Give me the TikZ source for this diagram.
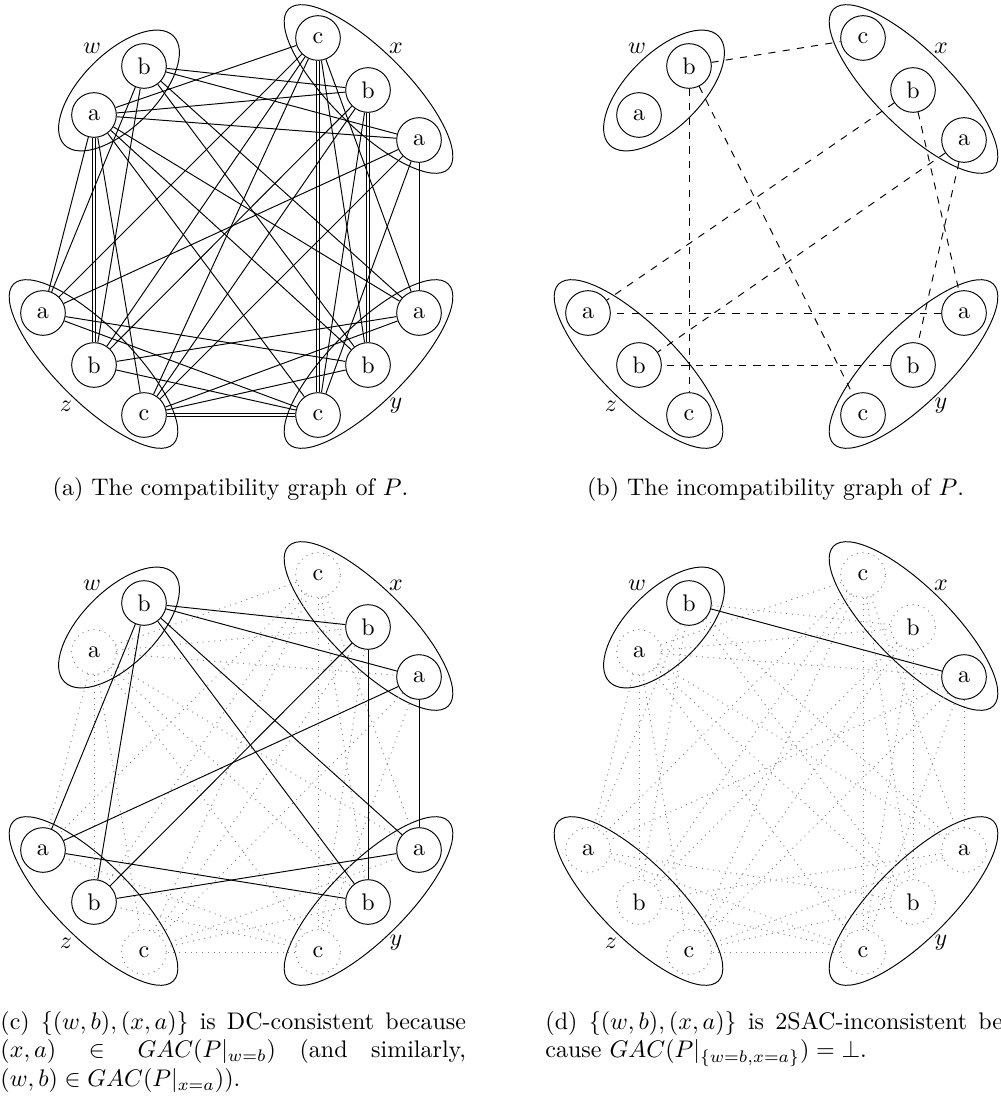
\documentclass[tikz,border=0pt]{standalone}
\usetikzlibrary{shapes.geometric}
\tikzset{
  vnode/.style={circle,draw,minimum size=18.6pt,inner sep=0pt},
  ghost/.style={draw=gray,dotted},
  vlabel/.style={inner sep=0pt},
  grp/.style={draw},
  comp/.style={draw},
  incomp/.style={draw,dashed},
  faint/.style={draw=gray,dotted},
  C-w-a/.style={ghost}, C-x-c/.style={ghost}, C-y-c/.style={ghost}, C-z-c/.style={ghost},
  D-w-a/.style={ghost}, D-x-b/.style={ghost}, D-x-c/.style={ghost},
  D-y-a/.style={ghost}, D-y-b/.style={ghost}, D-y-c/.style={ghost},
  D-z-a/.style={ghost}, D-z-b/.style={ghost}, D-z-c/.style={ghost},
}
\newcommand{\panelnodes}[3]{%
\begin{scope}[shift={(#2,#3)}]
\node[vnode,#1-w-a/.try] (#1-w-a) at (94,115) {a};
\node[vnode,#1-w-b/.try] (#1-w-b) at (144,66) {b};
\node[vnode,#1-x-c/.try] (#1-x-c) at (318,38) {c};
\node[vnode,#1-x-b/.try] (#1-x-b) at (368,90) {b};
\node[vnode,#1-x-a/.try] (#1-x-a) at (419,140) {a};
\node[vnode,#1-y-a/.try] (#1-y-a) at (419,313) {a};
\node[vnode,#1-y-b/.try] (#1-y-b) at (368,365) {b};
\node[vnode,#1-y-c/.try] (#1-y-c) at (318,415) {c};
\node[vnode,#1-z-a/.try] (#1-z-a) at (43,313) {a};
\node[vnode,#1-z-b/.try] (#1-z-b) at (94,365) {b};
\node[vnode,#1-z-c/.try] (#1-z-c) at (144,415) {c};
\node[vlabel] (#1-lw) at (92,48) {$w$};
\node[vlabel] (#1-lx) at (396,48) {$x$};
\node[vlabel] (#1-ly) at (396,406) {$y$};
\node[vlabel] (#1-lz) at (66,406) {$z$};
\draw[grp,rotate around={45:(119,90.5)}] (119,90.5) ellipse [x radius=77,y radius=37];
\draw[grp,rotate around={-45:(368.5,89)}] (368.5,89) ellipse [x radius=113,y radius=38];
\draw[grp,rotate around={45:(368.5,364)}] (368.5,364) ellipse [x radius=113,y radius=38];
\draw[grp,rotate around={-45:(93.5,364)}] (93.5,364) ellipse [x radius=113,y radius=38];
\end{scope}}
\def\complist{w-a/x-a, w-a/x-b, w-a/x-c, w-a/y-a, w-a/y-b, w-a/y-c, w-a/z-a, w-a/z-c,
 w-b/x-a, w-b/x-b, w-b/y-a, w-b/y-b, w-b/z-a, w-b/z-b,
 x-a/y-a, x-a/y-c, x-a/z-a, x-a/z-c,
 x-b/y-c, x-b/z-b, x-b/z-c,
 x-c/y-a, x-c/y-b, x-c/z-a, x-c/z-b, x-c/z-c,
 y-a/z-b, y-a/z-c, y-b/z-a, y-b/z-c, y-c/z-a, y-c/z-b}
\def\incomplist{w-b/x-c, w-b/z-c, w-b/y-c, x-b/z-a, x-a/z-b, x-b/y-a, x-a/y-b, y-a/z-a, y-b/z-b}
\def\csolid{w-b/x-a, w-b/x-b, w-b/y-a, w-b/y-b, w-b/z-a, w-b/z-b, x-a/y-a, x-a/z-a, x-b/y-b, x-b/z-b, y-a/z-b, y-b/z-a}
\def\cdotted{w-a/x-a, w-a/x-b, w-a/x-c, w-a/y-a, w-a/y-b, w-a/y-c, w-a/z-a, w-a/z-b, w-a/z-c,
 x-a/y-c, x-a/z-c, x-b/y-c, x-b/z-c,
 x-c/y-a, x-c/y-b, x-c/y-c, x-c/z-a, x-c/z-b, x-c/z-c,
 y-a/z-c, y-b/z-c, y-c/z-a, y-c/z-b, y-c/z-c}
\def\ddotted{w-a/x-a, w-a/x-b, w-a/x-c, w-a/y-a, w-a/y-b, w-a/y-c, w-a/z-a, w-a/z-b, w-a/z-c,
 w-b/x-b, w-b/y-a, w-b/y-b, w-b/z-a, w-b/z-b,
 x-a/y-a, x-a/y-c, x-a/z-a, x-a/z-c,
 x-b/y-b, x-b/y-c, x-b/z-b, x-b/z-c,
 x-c/y-a, x-c/y-b, x-c/y-c, x-c/z-a, x-c/z-b, x-c/z-c,
 y-a/z-b, y-a/z-c, y-b/z-a, y-b/z-c, y-c/z-a, y-c/z-b, y-c/z-c}
\begin{document}
\begin{tikzpicture}[x=0.416667pt,y=-0.416667pt]
\path[use as bounding box,clip] (0,0) rectangle (1000,1099);
% panels
\panelnodes{A}{0}{0}
\panelnodes{B}{545}{0}
\panelnodes{C}{0}{537}
\panelnodes{D}{545}{537}
% (a) compatibility graph
\foreach \u/\v in \complist {\draw[comp] (A-\u) -- (A-\v);}
\foreach \u/\v in {w-a/z-b, x-b/y-b, x-c/y-c} {
  \draw[comp,transform canvas={xshift=0.7pt}] (A-\u) -- (A-\v);
  \draw[comp,transform canvas={xshift=-0.7pt}] (A-\u) -- (A-\v);}
\draw[comp,transform canvas={yshift=0.7pt}] (A-y-c) -- (A-z-c);
\draw[comp,transform canvas={yshift=-0.7pt}] (A-y-c) -- (A-z-c);
% (b) incompatibility graph
\foreach \u/\v in \incomplist {\draw[incomp] (B-\u) -- (B-\v);}
% (c)
\foreach \u/\v in \cdotted {\draw[faint] (C-\u) -- (C-\v);}
\foreach \u/\v in \csolid {\draw[comp] (C-\u) -- (C-\v);}
% (d)
\foreach \u/\v in \ddotted {\draw[faint] (D-\u) -- (D-\v);}
\draw[comp] (D-w-b) -- (D-x-a);
% captions
\node[anchor=base] (capA) at (230.5,495) {(a) The compatibility graph of $P$.};
\node[anchor=base] (capB) at (775.5,495) {(b) The incompatibility graph of $P$.};
\node[anchor=base west,inner sep=0pt] (capC) at (0,1029) {\parbox[t]{194pt}{(c) $\{(w,b),(x,a)\}$ is DC-consistent because\linebreak $(x,a) \in GAC(P|_{w=b})$ (and similarly,\linebreak $(w,b) \in GAC(P|_{x=a})$).}};
\node[anchor=base west,inner sep=0pt] (capD) at (545,1029) {\parbox[t]{194pt}{(d) $\{(w,b),(x,a)\}$ is 2SAC-inconsistent be-\linebreak cause $GAC(P|_{\{w=b,x=a\}}) = \bot$.}};
\end{tikzpicture}
\end{document}
